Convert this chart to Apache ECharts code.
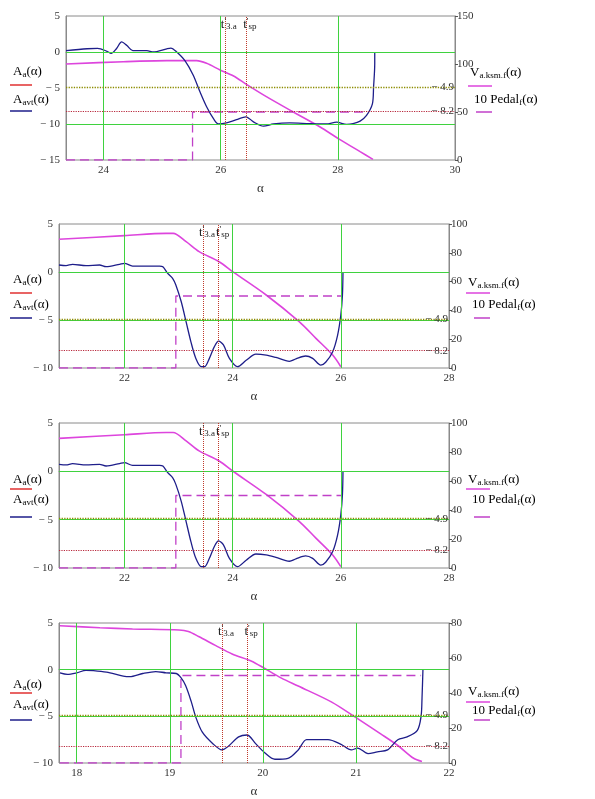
<!DOCTYPE html>
<html>
<head>
<meta charset="utf-8">
<script src="https://cdn.jsdelivr.net/npm/echarts@6/dist/echarts.min.js"></script>
<style>
  html, body { margin: 0; padding: 0; background: #fff; }
  #main { width: 595px; height: 799px; }
</style>
</head>
<body>
<div id="main"></div>
<script>
// plot 1
var alphaAvt1 = [23.36, 23.72, 23.9, 24.06, 24.13, 24.22, 24.31, 24.4, 24.5, 24.74, 24.85, 25.08, 25.15, 25.25, 25.39, 25.53, 25.65, 25.76, 25.88, 25.96, 26.1, 26.27, 26.43, 26.56, 26.73, 26.9, 27.18, 27.52, 27.8, 27.98, 28.15, 28.26, 28.38, 28.49, 28.59, 28.61, 28.63, 28.63];
var avt1 = [0.2, 0.45, 0.5, 0.1, -0.2, 0.45, 1.4, 0.9, 0.2, 0.2, 0, 0.45, 0.55, 0, -1.2, -3.2, -5.6, -7.6, -9.3, -10, -9.85, -9.4, -9.0, -9.7, -10.3, -10, -9.85, -9.95, -10, -9.75, -10.05, -9.95, -9.6, -8.8, -7.2, -4.9, -1.6, 0];
var alphaV1 = [23.36, 24.34, 25.08, 25.59, 25.76, 25.99, 26.22, 26.44, 26.78, 27.24, 27.69, 28.03, 28.38, 28.6];
var v1 = [100, 102.4, 103.5, 103.5, 100.7, 93.8, 87.5, 78.8, 66, 50, 34.7, 21.5, 8.7, 0.7];
var alphaPedal1 = [23.36, 25.52, 25.52, 28.5];
var pedal1 = [0, 0, 50, 50];
var tMarks1 = [26.07, 26.43];

// plot 2 and 3 (same run)
var alphaAvt2 = [20.79, 20.92, 21.04, 21.29, 21.54, 21.66, 21.91, 22.0, 22.15, 22.4, 22.65, 22.71, 22.8, 22.89, 22.95, 23.05, 23.14, 23.23, 23.32, 23.42, 23.48, 23.57, 23.66, 23.74, 23.83, 23.94, 24.09, 24.25, 24.43, 24.62, 24.8, 25.05, 25.17, 25.35, 25.48, 25.63, 25.72, 25.85, 25.94, 26.0, 26.03, 26.04];
var avt2 = [0.73, 0.66, 0.8, 0.66, 0.73, 0.55, 0.8, 0.9, 0.62, 0.62, 0.62, 0.55, -0.14, -0.66, -1.35, -3.1, -5.2, -7.3, -9.0, -9.86, -9.86, -9.0, -7.8, -7.2, -7.6, -9.0, -9.86, -9.2, -8.55, -8.65, -8.9, -9.3, -9.05, -8.75, -9.0, -9.7, -9.4, -8.3, -6.6, -4.5, -2.4, 0];
var alphaV2 = [20.79, 22.0, 22.77, 22.9, 23.14, 23.38, 23.75, 24.0, 24.62, 25.23, 25.54, 25.85, 26.0];
var v2 = [89.4, 91.9, 93.5, 93.5, 87.7, 80.8, 73.8, 66.9, 50.7, 32.2, 20.6, 9, 0.9];
var alphaPedal2 = [20.79, 22.95, 22.95, 26.02];
var pedal2 = [0, 0, 50, 50];
var tMarks2 = [23.45, 23.74];

// plot 4
var alphaAvt4 = [17.82, 17.9, 18.0, 18.1, 18.18, 18.32, 18.5, 18.57, 18.71, 18.85, 18.96, 19.07, 19.12, 19.17, 19.23, 19.28, 19.35, 19.46, 19.56, 19.63, 19.74, 19.83, 19.92, 20.02, 20.13, 20.27, 20.38, 20.47, 20.59, 20.7, 20.84, 20.95, 21.02, 21.13, 21.23, 21.34, 21.45, 21.55, 21.66, 21.7, 21.71, 21.72];
var avt4 = [-0.34, -0.5, -0.34, -0.07, -0.1, -0.27, -0.68, -0.75, -0.41, -0.2, -0.34, -0.41, -0.86, -1.7, -3.4, -5.1, -6.7, -7.9, -8.6, -8.2, -7.2, -7.0, -7.9, -8.9, -9.6, -9.5, -8.6, -7.5, -7.5, -7.5, -8.0, -8.6, -8.4, -9.0, -8.8, -8.6, -7.5, -7.2, -6.5, -5.0, -3.1, 0];
var alphaV4 = [17.82, 18.25, 18.6, 19.1, 19.2, 19.31, 19.49, 19.67, 19.88, 20.02, 20.2, 20.38, 20.74, 21.01, 21.27, 21.45, 21.62, 21.71];
var v4 = [78.4, 77.3, 76.6, 76, 75.1, 72.3, 67.2, 62.3, 58.2, 54, 48.5, 44, 34.8, 25.6, 16.5, 10, 2.7, 0.9];
var alphaPedal4 = [17.82, 19.12, 19.12, 21.7];
var pedal4 = [0, 0, 50, 50];
var tMarks4 = [19.56, 19.83];

var limits = [-4.9, -8.2];

var FONT = 'Liberation Serif';
var BLUE = '#1e1e8a', MAGENTA = '#dd45dd', PEDAL = '#c040c8', GREEN = '#3fd23f';

function zip(a, b) {
  var out = [];
  for (var i = 0; i < a.length; i++) out.push([a[i], b[i]]);
  return out;
}

// subscript / prime shifted with padding, all tokens middle-aligned
var rich = {
  b: { fontFamily: FONT, fontSize: 13, color: '#222' },
  s: { fontFamily: FONT, fontSize: 9, color: '#222', padding: [5, 0, 0, 0] },
  p: { fontFamily: FONT, fontSize: 9, color: '#222', padding: [0, 0, 5, 0] }
};

var plots = [
  { top: 16, left: 66, right: 140, height: 144, xMin: 23.36, xMax: 30, xTicks: [24, 26, 28, 30],
    yMin: -15, vMax: 150, vInt: 50, gridX: [24, 26, 28], gridY: [-10, 0],
    avt: zip(alphaAvt1, avt1), v: zip(alphaV1, v1), pedal: zip(alphaPedal1, pedal1), t: tMarks1,
    leg: [72, 85, 100, 111, 73, 86, 100, 112] },
  { top: 224, left: 59, right: 146, height: 144, xMin: 20.79, xMax: 28, xTicks: [22, 24, 26, 28],
    yMin: -10, vMax: 100, vInt: 20, gridX: [22, 24, 26], gridY: [-5, 0],
    avt: zip(alphaAvt2, avt2), v: zip(alphaV2, v2), pedal: zip(alphaPedal2, pedal2), t: tMarks2,
    leg: [280, 293, 305, 318, 283, 293, 305, 318] },
  { top: 423, left: 59, right: 146, height: 145, xMin: 20.79, xMax: 28, xTicks: [22, 24, 26, 28],
    yMin: -10, vMax: 100, vInt: 20, gridX: [22, 24, 26], gridY: [-5, 0],
    avt: zip(alphaAvt2, avt2), v: zip(alphaV2, v2), pedal: zip(alphaPedal2, pedal2), t: tMarks2,
    leg: [480, 489, 500, 517, 480, 489, 500, 517] },
  { top: 623, left: 59, right: 146, height: 145, xMin: 17.81, xMax: 22, xTicks: [18, 19, 20, 21, 22],
    yMin: -10, vMax: 80, vInt: 20, gridX: [18, 19, 20, 21], gridY: [-5, 0],
    avt: zip(alphaAvt4, avt4), v: zip(alphaV4, v4), pedal: zip(alphaPedal4, pedal4), t: tMarks4,
    leg: [685, 693, 705, 720, 692, 702, 711, 720] }
];

var grids = [], xAxes = [], yAxes = [], series = [], graphics = [];
var labelStyle = { fontFamily: FONT, fontSize: 11, color: '#333' };

plots.forEach(function (p, i) {
  grids.push({ left: p.left, right: p.right, top: p.top, height: p.height,
    show: true, borderColor: '#8a8a8a', borderWidth: 1, backgroundColor: '#fff' });

  xAxes.push({
    type: 'value', gridIndex: i, min: p.xMin, max: p.xMax,
    name: 'α', nameLocation: 'middle', nameGap: 22,
    nameTextStyle: { fontFamily: FONT, fontSize: 13, color: '#333' },
    axisLine: { show: true, lineStyle: { color: '#8a8a8a' } },
    axisTick: { show: false },
    splitLine: { show: false },
    axisLabel: Object.assign({ customValues: p.xTicks, margin: 5 }, labelStyle)
  });

  yAxes.push({
    type: 'value', gridIndex: i, position: 'left', min: p.yMin, max: 5, interval: 5,
    axisLine: { show: true, lineStyle: { color: '#8a8a8a' } },
    axisTick: { show: false },
    splitLine: { show: false },
    axisLabel: Object.assign({ margin: 6, formatter: function (v) {
      return v < 0 ? '− ' + (-v) : String(v);
    } }, labelStyle)
  });
  yAxes.push({
    type: 'value', gridIndex: i, position: 'right', min: 0, max: p.vMax, interval: p.vInt,
    axisLine: { show: true, lineStyle: { color: '#8a8a8a' } },
    axisTick: { show: true, length: 3, lineStyle: { color: '#555' } },
    splitLine: { show: false },
    axisLabel: Object.assign({ margin: 2 }, labelStyle)
  });

  // green grid lines
  series.push({
    type: 'line', xAxisIndex: i, yAxisIndex: 2 * i, data: [], z: 1, silent: true,
    markLine: {
      symbol: 'none', silent: true, label: { show: false },
      lineStyle: { color: GREEN, type: 'solid', width: 1 },
      data: p.gridX.map(function (v) { return { xAxis: v }; })
        .concat(p.gridY.map(function (v) { return { yAxis: v }; }))
    }
  });

  var mlData = [
    { yAxis: limits[0], lineStyle: { color: '#8c8c00', type: 'dotted', width: 1.3 },
      label: { show: true, position: 'insideEnd', formatter: '− 4.9' } },
    { yAxis: limits[1], lineStyle: { color: '#b8283c', type: 'dotted', width: 1.2 },
      label: { show: true, position: 'insideEnd', formatter: '− 8.2' } },
    { xAxis: p.t[0], lineStyle: { color: '#c03a2b', type: 'dotted', width: 1 }, label: { show: false } },
    { xAxis: p.t[1], lineStyle: { color: '#c03a2b', type: 'dotted', width: 1 }, label: { show: false } }
  ];

  series.push({
    name: 'Aavt', type: 'line', xAxisIndex: i, yAxisIndex: 2 * i, data: p.avt,
    showSymbol: false, symbol: 'none', smooth: 0.3, z: 3,
    lineStyle: { color: BLUE, width: 1.3 },
    markLine: {
      symbol: 'none', silent: true,
      label: { fontFamily: FONT, fontSize: 11, color: '#333', distance: 1 },
      data: mlData
    },
    markPoint: {
      symbol: 'circle', symbolSize: 1, silent: true,
      itemStyle: { color: 'rgba(0,0,0,0)' },
      label: { show: true, position: 'bottom', distance: 1, offset: [4, 0], rich: rich },
      data: [
        { coord: [p.t[0], 5], label: { formatter: "{b|t}{p|'}{s|3.a}" } },
        { coord: [p.t[1], 5], label: { formatter: "{b|t}{p|'}{s|sp}" } }
      ]
    }
  });

  series.push({
    name: 'V', type: 'line', xAxisIndex: i, yAxisIndex: 2 * i + 1, data: p.v,
    showSymbol: false, symbol: 'none', smooth: 0.3, z: 2,
    lineStyle: { color: MAGENTA, width: 1.6 }
  });

  series.push({
    name: 'Pedal', type: 'line', xAxisIndex: i, yAxisIndex: 2 * i + 1, data: p.pedal,
    showSymbol: false, symbol: 'none', z: 2,
    lineStyle: { color: PEDAL, width: 1.3, type: [9, 5] }
  });

  // legends, Mathcad style
  var L = p.leg;
  var rx = p.left === 66 ? 468 : 466;
  graphics.push(
    { type: 'text', x: 13, y: L[0], style: { text: '{b|A}{s|a}{b|(α)}', rich: rich, verticalAlign: 'middle' } },
    { type: 'line', shape: { x1: 10, y1: L[1], x2: 32, y2: L[1] }, style: { stroke: '#e03030', lineWidth: 1.5 } },
    { type: 'text', x: 13, y: L[2], style: { text: '{b|A}{s|avt}{b|(α)}', rich: rich, verticalAlign: 'middle' } },
    { type: 'line', shape: { x1: 10, y1: L[3], x2: 32, y2: L[3] }, style: { stroke: BLUE, lineWidth: 1.5 } },
    { type: 'text', x: rx + 2, y: L[4], style: { text: '{b|V}{s|a.ksm.f}{b|(α)}', rich: rich, verticalAlign: 'middle' } },
    { type: 'line', shape: { x1: rx, y1: L[5], x2: rx + 24, y2: L[5] }, style: { stroke: MAGENTA, lineWidth: 1.5 } },
    { type: 'text', x: rx + 6, y: L[6], style: { text: '{b|10 Pedal}{s|f}{b|(α)}', rich: rich, verticalAlign: 'middle' } },
    { type: 'line', shape: { x1: rx + 8, y1: L[7], x2: rx + 24, y2: L[7] }, style: { stroke: PEDAL, lineWidth: 1.5 } }
  );
});

var chart = echarts.init(document.getElementById('main'), null, { renderer: 'canvas' });
chart.setOption({
  backgroundColor: '#fff',
  animation: false,
  grid: grids,
  xAxis: xAxes,
  yAxis: yAxes,
  series: series,
  graphic: graphics
});
</script>
</body>
</html>
